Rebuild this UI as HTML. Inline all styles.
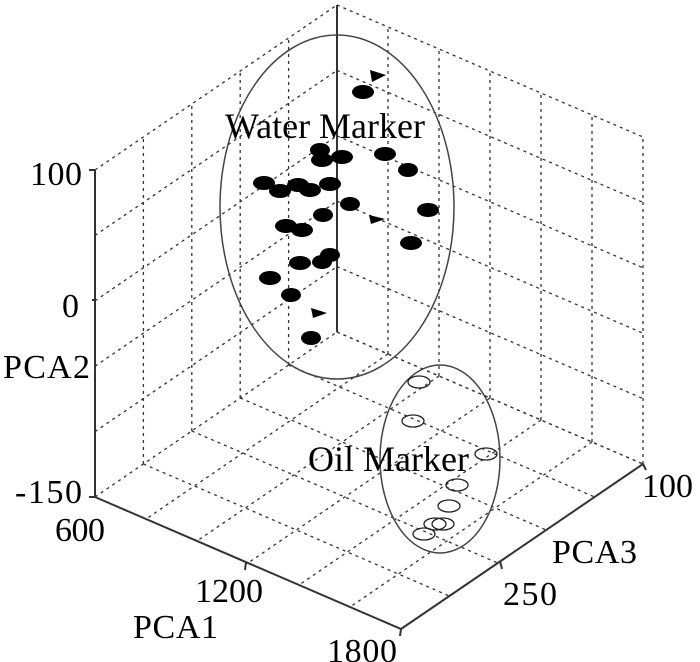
<!DOCTYPE html>
<html><head><meta charset="utf-8"><style>
body{margin:0;background:#fff}
svg{display:block}
text{font-family:"Liberation Serif",serif;font-size:34px;fill:#000}
</style></head><body>
<svg id="s" width="700" height="662" viewBox="0 0 700 662" xmlns="http://www.w3.org/2000/svg">
<g id="grid" stroke="#333" stroke-width="1.3" stroke-dasharray="3,4" fill="none"></g>
<g stroke="#333" stroke-width="2" fill="none">
<line x1="95" y1="170" x2="95" y2="497"/>
<line x1="89" y1="170" x2="95" y2="170"/>
<line x1="89" y1="497" x2="95" y2="497"/>
<line x1="92" y1="300" x2="95" y2="300"/>
<line x1="337" y1="5" x2="337" y2="332"/>
<line x1="95" y1="497" x2="401" y2="629"/>
<line x1="401" y1="629" x2="643" y2="464"/>
<line x1="246" y1="562" x2="245" y2="570"/>
<line x1="500" y1="561" x2="502" y2="569"/>
<line x1="401" y1="629" x2="400" y2="636"/>
<line x1="643" y1="464" x2="646" y2="470"/>
</g>
<g fill="none" stroke="#444" stroke-width="1.5">
<ellipse cx="337" cy="207" rx="117" ry="172"/>
<ellipse cx="440" cy="459" rx="60" ry="94"/>
</g>
<g fill="#000">
<ellipse cx="363" cy="92" rx="11" ry="7"/>
<ellipse cx="320" cy="150" rx="10" ry="7"/>
<ellipse cx="322" cy="160" rx="11" ry="7"/>
<ellipse cx="342" cy="157" rx="11" ry="7"/>
<ellipse cx="385" cy="154" rx="11" ry="7"/>
<ellipse cx="408" cy="170" rx="10" ry="7"/>
<ellipse cx="264" cy="183" rx="11" ry="7"/>
<ellipse cx="280" cy="191" rx="11" ry="7"/>
<ellipse cx="298" cy="185" rx="11" ry="7"/>
<ellipse cx="310" cy="190" rx="11" ry="7"/>
<ellipse cx="330" cy="184" rx="11" ry="7"/>
<ellipse cx="350" cy="204" rx="10" ry="7"/>
<ellipse cx="428" cy="210" rx="11" ry="7"/>
<ellipse cx="323" cy="215" rx="10" ry="7"/>
<ellipse cx="286" cy="226" rx="11" ry="7"/>
<ellipse cx="302" cy="230" rx="11" ry="7"/>
<ellipse cx="411" cy="243" rx="11" ry="7"/>
<ellipse cx="300" cy="263" rx="11" ry="7"/>
<ellipse cx="322" cy="262" rx="10" ry="7"/>
<ellipse cx="330" cy="255" rx="10" ry="7"/>
<ellipse cx="270" cy="278" rx="11" ry="7"/>
<ellipse cx="291" cy="295" rx="10" ry="7"/>
<ellipse cx="311" cy="338" rx="10" ry="7"/>
<polygon points="370,70 386,75 372,82"/>
<polygon points="369,215 385,219 371,224"/>
<polygon points="311,308 327,313 313,318"/>
</g>
<g fill="none" stroke="#222" stroke-width="1.3">
<ellipse cx="419" cy="382" rx="11" ry="6"/>
<ellipse cx="413" cy="421" rx="11" ry="6"/>
<ellipse cx="486" cy="454" rx="11" ry="6"/>
<ellipse cx="457" cy="485" rx="11" ry="6"/>
<ellipse cx="449" cy="506" rx="11" ry="6"/>
<ellipse cx="435" cy="524" rx="11" ry="6"/>
<ellipse cx="443" cy="524" rx="11" ry="6"/>
<ellipse cx="424" cy="534" rx="11" ry="6"/>
</g>
<text x="225" y="138" textLength="200" style="font-size:36px">Water Marker</text>
<text x="308" y="471" textLength="161" style="font-size:36px">Oil Marker</text>
<text x="30" y="185" textLength="52">100</text>
<text x="62" y="317">0</text>
<text x="3" y="378" textLength="87">PCA2</text>
<text x="15" y="503" textLength="67">-150</text>
<text x="55" y="541" textLength="50">600</text>
<text x="195" y="602" textLength="68">1200</text>
<text x="133" y="638" textLength="85">PCA1</text>
<text x="327" y="662" textLength="70">1800</text>
<text x="552" y="563" textLength="85">PCA3</text>
<text x="503" y="605" textLength="54">250</text>
<text x="642" y="497" textLength="51">100</text>
</svg>
<script>
var g=document.getElementById('grid'),L=[95,497],B=[337,332],R=[643,464],H=327;
function ln(a,b,c,d){var e=document.createElementNS('http://www.w3.org/2000/svg','line');e.setAttribute('x1',a);e.setAttribute('y1',b);e.setAttribute('x2',c);e.setAttribute('y2',d);g.appendChild(e);}
for(var i=0;i<5;i++){var x=L[0]+(B[0]-L[0])*i/5,y=L[1]+(B[1]-L[1])*i/5;if(i>0)ln(x,y,x,y-H);ln(x,y,x+R[0]-B[0],y+R[1]-B[1]);}
for(var j=1;j<=6;j++){var x=B[0]+(R[0]-B[0])*j/6,y=B[1]+(R[1]-B[1])*j/6;ln(x,y,x,y-H);ln(x,y,x+L[0]-B[0],y+L[1]-B[1]);}
ln(B[0],B[1],R[0],R[1]);
for(var k=0;k<=5;k++){var d=H*k/5;ln(L[0],L[1]-d,B[0],B[1]-d);ln(B[0],B[1]-d,R[0],R[1]-d);}
</script>
</body></html>
